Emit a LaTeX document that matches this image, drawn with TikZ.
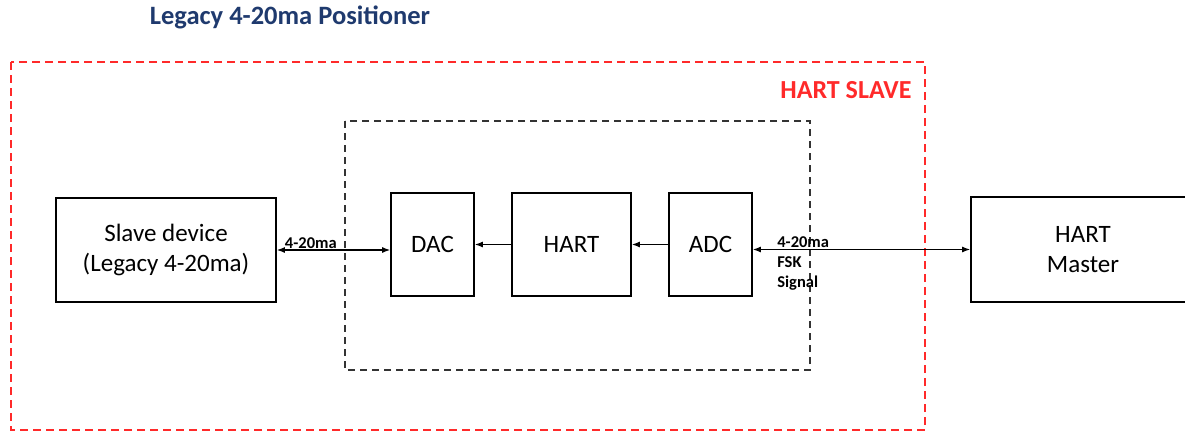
\documentclass[tikz,border=0pt]{standalone}
\usepackage{fontspec}
\setmainfont{Carlito}
\usetikzlibrary{arrows.meta}
\definecolor{titleblue}{HTML}{1F3A6E}
\definecolor{slavered}{HTML}{FF2A2A}
\tikzstyle{block}=[draw,line width=1.6pt,inner sep=0pt,align=center,font=\fontsize{25}{30}\selectfont]
\tikzstyle{lbl}=[font=\bfseries\fontsize{16.5}{20}\selectfont,inner sep=1pt,align=left]
\tikzstyle{wire}=[line width=1.4pt,>={Latex[length=8pt,width=6pt]}]

\begin{document}
\begin{tikzpicture}[x=1pt,y=-1pt]
\useasboundingbox (0,0) rectangle (1185,431);
\node[font=\bfseries\fontsize{26.5}{30}\selectfont,text=titleblue] at (290, 17) (title) {Legacy 4-20ma Positioner};
\draw[slavered,line width=1.8pt,dash pattern=on 8pt off 5pt] (11, 62) rectangle (925, 430);
\node[font=\bfseries\fontsize{26}{30}\selectfont,text=slavered,anchor=east] at (915, 90) (hartslave) {HART SLAVE};
\draw[black!80,line width=1.8pt,dash pattern=on 7pt off 5pt] (345, 121) rectangle (810, 370);
\node[block,minimum width=220pt,minimum height=104pt] at (166, 250) (slave) {Slave device\\(Legacy 4-20ma)};
\node[block,minimum width=83pt,minimum height=103pt] at (432.5, 244.5) (dac) {DAC};
\node[block,minimum width=119pt,minimum height=103pt] at (571.5, 244.5) (hart) {HART};
\node[block,minimum width=83pt,minimum height=103pt] at (710.5, 244.5) (adc) {ADC};
\node[block,minimum width=224pt,minimum height=105pt] at (1083, 249.5) (master) {HART\\Master};
\draw[wire,<->] (slave.east) -- node[lbl,pos=0.3,anchor=south] {4-20ma} (slave.east -| dac.west);
\draw[wire,->] (hart.west) -- (dac.east);
\draw[wire,->] (adc.west) -- (hart.east);
\draw[wire,<->] (master.west -| adc.east) -- node[lbl,pos=0.105,anchor=south west] {4-20ma}
  node[lbl,pos=0.105,anchor=north west,yshift=-5pt] {FSK\\Signal} (master.west);
\end{tikzpicture}
\end{document}
